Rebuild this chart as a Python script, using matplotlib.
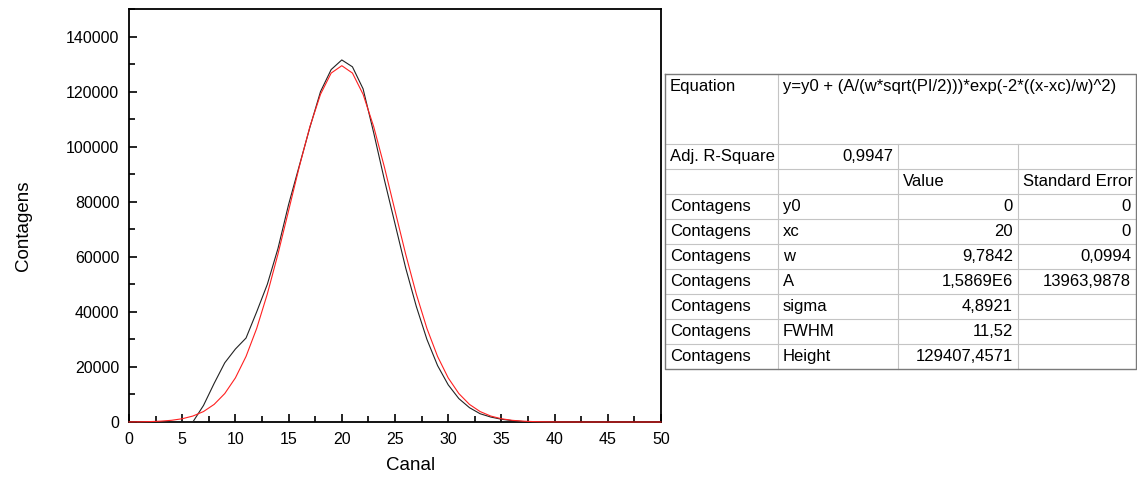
import matplotlib.pyplot as plt
from matplotlib.ticker import MultipleLocator

plt.rcParams['font.family'] = ['Liberation Sans', 'DejaVu Sans']

# experimental counts per channel
canal = list(range(0, 41))
contagens = [0, 0, 0, 0, 0, 0, 0, 6000, 14000, 21500,
             26500, 30500, 40000, 50000, 63000, 79000, 93000, 107000, 120000, 128000,
             131500, 129000, 121000, 105000, 88000, 72000, 56000, 42000, 30000, 20500,
             13500, 8500, 5200, 3000, 1800, 1000, 500, 200, 0, 0,
             0]

# fitted gauss curve
fit_x = list(range(0, 51))
fit_y = [30, 70, 150, 310, 620, 1180, 2160, 3790, 6390, 10330,
         16020, 23820, 33980, 46500, 61000, 76770, 92640, 107230, 119030, 126730,
         129407, 126730, 119030, 107230, 92640, 76770, 61000, 46500, 33980, 23820,
         16020, 10330, 6390, 3790, 2160, 1180, 620, 310, 150, 70,
         30, 10, 0, 0, 0, 0, 0, 0, 0, 0,
         0]

# fit report table
equation = "y=y0 + (A/(w*sqrt(PI/2)))*exp(-2*((x-xc)/w)^2)"
adj_r2 = "0,9947"
param_names = ["y0", "xc", "w", "A", "sigma", "FWHM", "Height"]
param_values = ["0", "20", "9,7842", "1,5869E6", "4,8921", "11,52", "129407,4571"]
param_errors = ["0", "0", "0,0994", "13963,9878", "", "", ""]

fig = plt.figure(figsize=(11.37, 4.8), dpi=100)
ax = fig.add_axes([129 / 1137, 58 / 480, 532 / 1137, 413 / 480])

ax.plot(fit_x, fit_y, color='#ff2020', lw=0.8, zorder=4, clip_on=False)
ax.plot(canal, contagens, color='#222222', lw=0.8, zorder=3, clip_on=False)

ax.set_xlim(0, 50)
ax.set_ylim(0, 150000)
ax.xaxis.set_major_locator(MultipleLocator(5))
ax.xaxis.set_minor_locator(MultipleLocator(2.5))
ax.yaxis.set_major_locator(MultipleLocator(20000))
ax.yaxis.set_minor_locator(MultipleLocator(10000))
ax.tick_params(which='both', direction='in', top=False, right=False, labelsize=11.5, width=1.2)
ax.tick_params(which='major', length=6, pad=7)
ax.tick_params(which='minor', length=4)
for s in ax.spines.values():
    s.set_linewidth(1.3)
ax.set_xlabel("Canal", fontsize=13.5)
ax.xaxis.set_label_coords(0.53, -0.085)
ax.set_ylabel("Contagens", fontsize=13.5)
ax.yaxis.set_label_coords(-0.182, 0.475)

# table drawn in pixel space on an overlay
ov = fig.add_axes([0, 0, 1, 1])
ov.set_xlim(0, 1137)
ov.set_ylim(480, 0)
ov.axis('off')

x0, c1, c2, c3, x1 = 665, 778, 898, 1018, 1136
ytop, yeq = 74, 144
rh = 25
nrows = 2 + len(param_names)
ybot = yeq + nrows * rh
inner = '#c4c4c4'
outer = '#7a7a7a'
fs = 12

for i in range(1, nrows):
    y = yeq + i * rh
    ov.plot([x0, x1], [y, y], color=inner, lw=0.8)
ov.plot([x0, x1], [yeq, yeq], color=inner, lw=0.8)
ov.plot([c1, c1], [ytop, ybot], color=inner, lw=0.8)
ov.plot([c2, c2], [yeq, ybot], color=inner, lw=0.8)
ov.plot([c3, c3], [yeq, ybot], color=inner, lw=0.8)
ov.plot([x0, x1, x1, x0, x0], [ytop, ytop, ybot, ybot, ytop], color=outer, lw=1.0)

ov.text(x0 + 5, ytop + 12, "Equation", fontsize=fs, va='center')
ov.text(c1 + 5, ytop + 12, equation, fontsize=fs, va='center')

y = yeq + rh / 2
ov.text(x0 + 5, y, "Adj. R-Square", fontsize=fs, va='center')
ov.text(c2 - 5, y, adj_r2, fontsize=fs, va='center', ha='right')

y += rh
ov.text(c2 + 5, y, "Value", fontsize=fs, va='center')
ov.text(c3 + 5, y, "Standard Error", fontsize=fs, va='center')

for name, val, err in zip(param_names, param_values, param_errors):
    y += rh
    ov.text(x0 + 5, y, "Contagens", fontsize=fs, va='center')
    ov.text(c1 + 5, y, name, fontsize=fs, va='center')
    ov.text(c3 - 5, y, val, fontsize=fs, va='center', ha='right')
    if err:
        ov.text(x1 - 5, y, err, fontsize=fs, va='center', ha='right')

fig.savefig("out.png", dpi=100)
